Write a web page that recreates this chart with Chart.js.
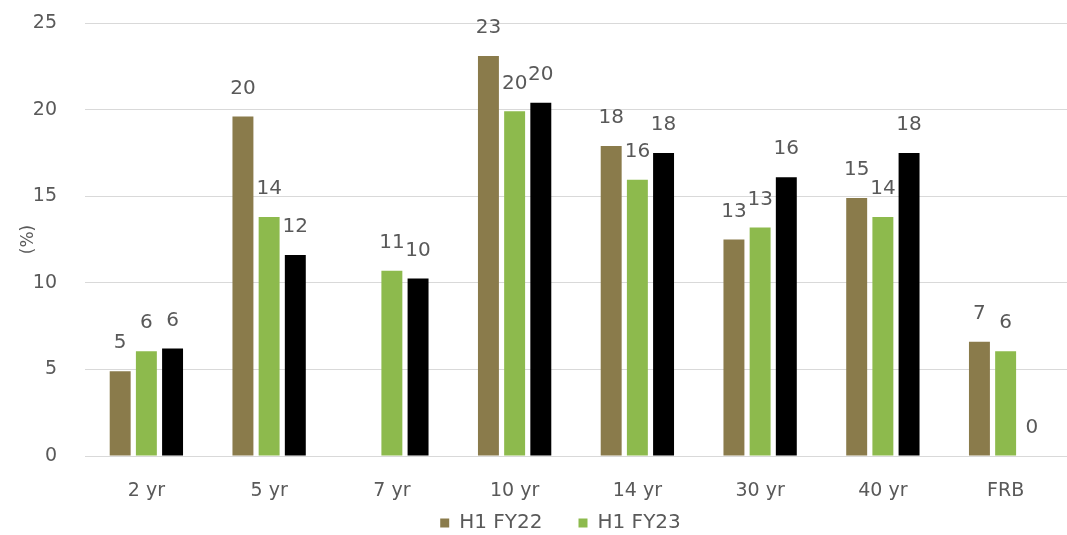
<!DOCTYPE html>
<html>
<head>
<meta charset="utf-8">
<script src="https://cdn.jsdelivr.net/npm/chart.js@4/dist/chart.umd.min.js"></script>
<style>
  html, body { margin: 0; padding: 0; background: #fff; }
  #wrap { width: 1067px; height: 535px; }
</style>
</head>
<body>
<div id="wrap"><canvas id="myChart"></canvas></div>
<script>
const categorias = ['2 yr', '5 yr', '7 yr', '10 yr', '14 yr', '30 yr', '40 yr', 'FRB'];
const h1fy22 = [4.9, 19.6, null, 23.1, 17.9, 12.5, 14.9, 6.6];
const h1fy23 = [6.05, 13.8, 10.7, 19.9, 15.95, 13.2, 13.8, 6.05];
const tercera = [6.2, 11.6, 10.25, 20.4, 17.5, 16.1, 17.5, 0];
const ticksY = [0, 5, 10, 15, 20, 25];

const colorTexto = '#595959';

// etiquetas con el valor redondeado encima de cada barra
const etiquetas = {
    id: 'etiquetas',
    afterDatasetsDraw(chart) {
        const ctx = chart.ctx;
        ctx.save();
        ctx.font = '20px "DejaVu Sans"';
        ctx.fillStyle = colorTexto;
        ctx.textAlign = 'center';
        ctx.textBaseline = 'middle';
        chart.data.datasets.forEach((ds, i) => {
            const meta = chart.getDatasetMeta(i);
            meta.data.forEach((bar, j) => {
                const v = ds.data[j];
                if (v === null) return;
                ctx.fillText(Math.round(v), bar.x, bar.y - 28);
            });
        });
        ctx.restore();
    }
};

// sube la leyenda para que quede pegada a las etiquetas del eje x
const moverLeyenda = {
    id: 'moverLeyenda',
    afterLayout(chart) {
        const l = chart.legend;
        const alto = l.bottom - l.top;
        l.top = 477;
        l.bottom = l.top + alto;
        l.left += 18;
        l.right += 18;
    }
};

new Chart(document.getElementById('myChart'), {
    type: 'bar',
    data: {
        labels: categorias,
        datasets: [
            { label: 'H1 FY22', data: h1fy22, backgroundColor: '#8a7b4b' },
            { label: 'H1 FY23', data: h1fy23, backgroundColor: '#8dba4d' },
            { label: 'H1 FY24', data: tercera, backgroundColor: '#000000' }
        ]
    },
    options: {
        responsive: true,
        maintainAspectRatio: false,
        animation: false,
        categoryPercentage: 0.64,
        barPercentage: 0.8,
        layout: { padding: { top: 0, right: 0, left: 18, bottom: -35 } },
        scales: {
            x: {
                grid: { display: false, drawTicks: false, tickLength: 0 },
                border: { display: false },
                ticks: { color: colorTexto, font: { family: 'DejaVu Sans', size: 19 }, padding: 24 },
                afterFit: axis => { axis.height = 48; }
            },
            y: {
                min: 0,
                max: 25,
                afterBuildTicks: axis => { axis.ticks = ticksY.map(v => ({ value: v })); },
                grid: { color: '#d9d9d9', drawTicks: false },
                border: { display: false },
                ticks: { color: colorTexto, font: { family: 'DejaVu Sans', size: 19 }, padding: 28 },
                title: { display: true, text: '(%)', color: colorTexto, font: { family: 'DejaVu Sans', size: 17 }, padding: 0 },
                afterFit: axis => {
                    axis.width = 67;
                    axis.paddingTop = 23;
                    axis.paddingBottom = 0;
                }
            }
        },
        plugins: {
            legend: {
                position: 'bottom',
                labels: {
                    color: colorTexto,
                    font: { family: 'DejaVu Sans', size: 20 },
                    boxWidth: 9,
                    boxHeight: 9,
                    padding: 36,
                    filter: item => item.datasetIndex < 2
                }
            },
            tooltip: { enabled: false }
        }
    },
    plugins: [etiquetas, moverLeyenda]
});
</script>
</body>
</html>
